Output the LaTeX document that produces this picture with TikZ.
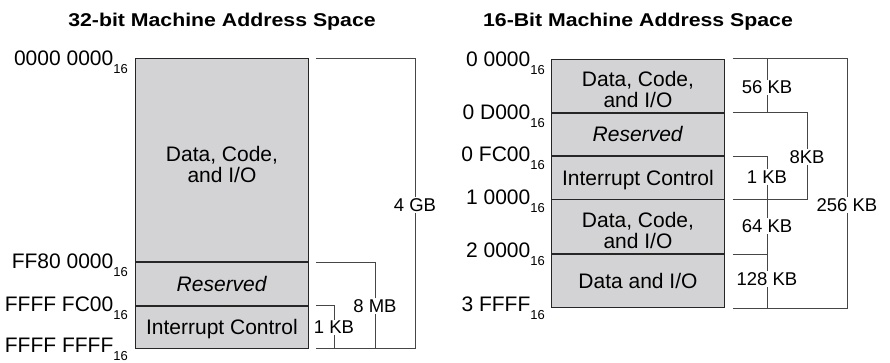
\documentclass[tikz,border=0pt]{standalone}
\usepackage{fontspec}
\setmainfont{Liberation Sans}
\newfontfamily\titlefont[FakeStretch=1.15]{Liberation Sans}
\usetikzlibrary{positioning}
\definecolor{memfill}{RGB}{211,211,213}
\definecolor{linegray}{RGB}{70,70,70}
\newcommand{\hexaddr}[1]{#1\raisebox{-8pt}{\fontsize{13}{13}\selectfont 16}}

\begin{document}
\begin{tikzpicture}[
                x=1pt, y=-1pt,
                region/.style={draw=black!85, line width=0.9pt, fill=memfill, minimum width=173pt, inner sep=0pt, text depth=0pt, font=\fontsize{21}{21}\selectfont},
                twoline/.style={align=center, text height=44pt},
                addr/.style={anchor=base east, inner sep=0pt, font=\fontsize{21}{21}\selectfont},
                size/.style={fill=white, inner sep=1pt, font=\fontsize{18.5}{18.5}\selectfont},
                bracket/.style={draw=linegray, line width=0.8pt},
                title/.style={anchor=base, inner sep=0pt, font=\titlefont\bfseries\fontsize{18.5}{20}\selectfont},
            ]
                \useasboundingbox (0,0) rectangle (890,362);
                \node[title] (t32) at (222,26.7) {32-bit Machine Address Space};
                \node[title] (t16) at (638,26.7) {16-Bit Machine Address Space};

                \node[region, twoline, minimum height=202.7pt, anchor=north west] (data32) at (135,58.3) {Data, Code,\\and I/O};
                \node[region, minimum height=42.7pt, below=0pt of data32] (res32) {\textit{Reserved}};
                \node[region, minimum height=42.3pt, below=0pt of res32] (int32) {Interrupt Control};

                \node[addr] (a32a) at (128,65.8) {\hexaddr{0000 0000}};
                \node[addr] (a32b) at (128,268.5) {\hexaddr{FF80 0000}};
                \node[addr] (a32c) at (128,311.2) {\hexaddr{FFFF FC00}};
                \node[addr] (a32d) at (128,352) {\hexaddr{FFFF FFFF}};

                \node[region, twoline, minimum height=53.2pt, anchor=north west] (data16) at (551,58.5) {Data, Code,\\and I/O};
                \node[region, minimum height=42.6pt, below=0pt of data16] (res16) {\textit{Reserved}};
                \node[region, minimum height=42.4pt, below=0pt of res16] (int16) {Interrupt Control};
                \node[region, twoline, minimum height=53.6pt, below=0pt of int16] (data16b) {Data, Code,\\and I/O};
                \node[region, minimum height=53.4pt, below=0pt of data16b] (io16) {Data and I/O};

                \node[addr] (a16a) at (545,66) {\hexaddr{0 0000}};
                \node[addr] (a16b) at (545,119.2) {\hexaddr{0 D000}};
                \node[addr] (a16c) at (545,161.8) {\hexaddr{0 FC00}};
                \node[addr] (a16d) at (545,204.2) {\hexaddr{1 0000}};
                \node[addr] (a16e) at (545,257.8) {\hexaddr{2 0000}};
                \node[addr] (a16f) at (545,311.2) {\hexaddr{3 FFFF}};

                \coordinate (l0) at ([xshift=7pt]data32.north east);
                \coordinate (l1) at ([xshift=7pt]res32.north east);
                \coordinate (l2) at ([xshift=7pt]int32.north east);
                \coordinate (l3) at ([xshift=7pt]int32.south east);
                \coordinate (r0) at ([xshift=8pt]data16.north east);
                \coordinate (r1) at ([xshift=8pt]res16.north east);
                \coordinate (r2) at ([xshift=8pt]int16.north east);
                \coordinate (r3) at ([xshift=8pt]data16b.north east);
                \coordinate (r4) at ([xshift=8pt]io16.north east);
                \coordinate (r5) at ([xshift=8pt]io16.south east);

                \node[size] (gb4) at (415,205) {4 GB};
                \node[size] (mb8) at (375,306) {8 MB};
                \node[size] (kb1) at (334,327.5) {1 KB};
                \node[size] (kb256) at (847,205) {256 KB};
                \node[size] (kb8) at (807,157) {8KB};
                \node[size] (kb56) at (767,87.5) {56 KB};
                \node[size] (kb1b) at (767,177) {1 KB};
                \node[size] (kb64) at (767,226) {64 KB};
                \node[size] (kb128) at (767,279) {128 KB};

                \draw[bracket] (l0) -| (gb4) |- (l3);
                \draw[bracket] (l1) -| (mb8) |- (l3);
                \draw[bracket] (l2) -| (kb1) |- (l3);
                \draw[bracket] (r0) -| (kb256) |- (r5);
                \draw[bracket] (r1) -| (kb8) |- (r3);
                \draw[bracket] (r0) -| (kb56) |- (r1);
                \draw[bracket] (r2) -| (kb1b) |- (r3);
                \draw[bracket] (r3) -| (kb64) |- (r4);
                \draw[bracket] (r4) -| (kb128) |- (r5);
            \end{tikzpicture}
\end{document}
